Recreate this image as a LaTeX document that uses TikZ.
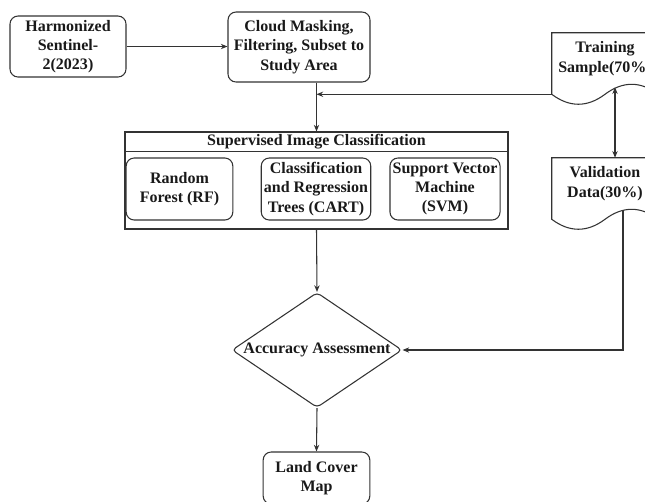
\documentclass[tikz,border=0pt]{standalone}
\usepackage{fontspec}
\setmainfont{Liberation Serif}
\usetikzlibrary{shapes.geometric,arrows.meta,calc,positioning}

\newcommand{\boxfont}{\fontsize{12}{14.5}\selectfont\bfseries}
\tikzset{
  outline/.style={draw=black!80, line width=0.8pt},
  box/.style={outline, rounded corners=6pt, align=center, font=\boxfont, text=black!90, inner sep=2pt},
  doc/.style={align=center, font=\boxfont, text=black!90, inner sep=0pt, minimum width=79.5pt, minimum height=38.25pt},
  arr/.style={outline, -{Stealth[length=5pt,width=4pt]}},
  dblarr/.style={outline, {Stealth[length=5pt,width=4pt]}-{Stealth[length=5pt,width=4pt]}}
}
% document shape with wavy bottom
\newcommand{\docline}[1]{%
  \draw[outline] (#1.north west) -- (#1.north east) -- ($(#1.south east)+(0,10)$)
    .. controls +(-17.7,-13.3) and ($(#1.south)+(17.7,-3.3)$) .. ($(#1.south)+(0,10)$)
    .. controls +(-17.7,13.3) and ($(#1.south west)+(17.7,23.3)$) .. ($(#1.south west)+(0,10)$) -- cycle;}

\begin{document}
\begin{tikzpicture}[x=0.75pt,y=-0.75pt]
    \useasboundingbox (0,0) rectangle (645,501);
    \clip (0,0) rectangle (645,501);

    % Input and preprocessing
    \node[box, minimum width=87pt, minimum height=45.75pt] (harm) at (68,46.5) {Harmonized\\Sentinel-\\2(2023)};
    \node[box, minimum width=106.5pt, minimum height=52.5pt] (cloud) at (299,47) {Cloud Masking,\\Filtering, Subset to\\Study Area};

    % Classification block
    \node[outline, minimum width=287.25pt, minimum height=72.75pt] (sup) at (316.5,180.5) {};
    \node[font=\boxfont, text=black!90] (suptitle) at (316.5,142) {Supervised Image Classification};
    \draw[outline] ($(sup.north west)+(0,20)$) -- ($(sup.north east)+(0,20)$);
    \node[box, minimum width=80pt, minimum height=46.5pt] (rf) at (179.5,189) {Random\\Forest (RF)};
    \node[box, minimum width=80pt, minimum height=46.5pt] (cart) at (316,189) {Classification\\and Regression\\Trees (CART)};
    \node[box, minimum width=80pt, minimum height=46.5pt] (svm) at (445,189) {Support Vector\\Machine\\(SVM)};

    % Assessment and output
    \node[diamond, outline, rounded corners=3pt, minimum width=127.5pt, minimum height=86.25pt, inner sep=0pt,
          label={[font=\boxfont, text=black!90]center:Accuracy Assessment}] (acc) at (317,350) {};
    \node[box, minimum width=80pt, minimum height=39pt] (land) at (316.5,478) {Land Cover\\Map};

    % Samples
    \node[doc] (train) at (605,58.5) {Training\\Sample(70\%)};
    \docline{train}
    \node[doc] (val) at (605,183.5) {Validation\\Data(30\%)};
    \docline{val}

    % Connectors
    \draw[arr] (harm.east) -- (harm.east -| cloud.west);
    \draw[arr] (cloud.south -| sup.north) -- (sup.north);
    \coordinate (tin) at ($(train.south west)+(0,10)$);
    \draw[arr] (tin) -- (tin -| sup.north);
    \coordinate (tv) at ($(train.south)+(10,3)$);
    \draw[dblarr] (tv) -- (tv |- val.north);
    \coordinate (vo) at ($(val.south)+(18,1)$);
    \draw[arr] (vo) |- (acc.east);
    \draw[arr] (sup.south) -- (acc.north);
    \draw[arr] (acc.south) -- (land.north);
\end{tikzpicture}
\end{document}
